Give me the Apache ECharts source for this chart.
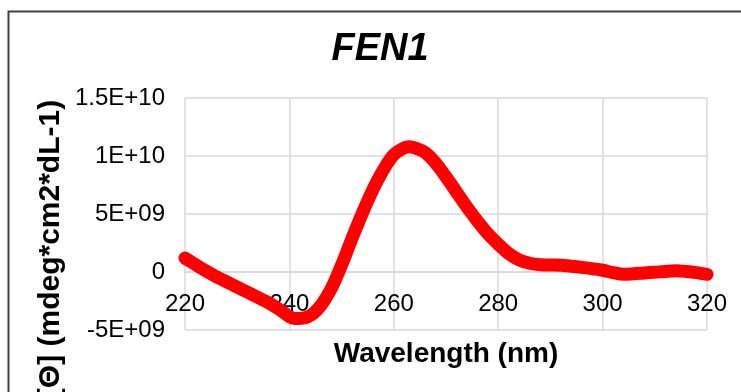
<!DOCTYPE html>
<html>
<head>
<meta charset="utf-8">
<title>FEN1</title>
<script src="https://cdn.jsdelivr.net/npm/echarts@6/dist/echarts.min.js"></script>
<style>
  html, body { margin: 0; padding: 0; background: #ffffff; }
  #chart { width: 741px; height: 392px; }
</style>
</head>
<body>
<div id="chart"></div>
<script>
// CD spectrum of FEN1: mean residue ellipticity vs wavelength
const wavelengths = [
  220, 222, 224, 226, 228, 230, 232, 234, 236, 238,
  240, 241, 242, 244, 246, 248, 250, 252, 254, 256,
  258, 260, 262, 263, 264, 266, 268, 270, 272, 274,
  276, 278, 280, 282, 284, 286, 288, 290, 292, 294,
  296, 298, 300, 302, 304, 306, 308, 310, 312, 314,
  316, 318, 320
];
const ellipticity = [
  1.2e9, 0.65e9, 0.1e9, -0.4e9, -0.85e9, -1.3e9, -1.75e9, -2.2e9, -2.65e9, -3.2e9,
  -3.85e9, -4.0e9, -4.0e9, -3.75e9, -2.9e9, -1.45e9, 0.6e9, 2.9e9, 5.1e9, 7.1e9,
  8.8e9, 10.1e9, 10.7e9, 10.8e9, 10.7e9, 10.3e9, 9.4e9, 8.2e9, 6.9e9, 5.6e9,
  4.4e9, 3.3e9, 2.4e9, 1.6e9, 1.05e9, 0.75e9, 0.62e9, 0.6e9, 0.58e9, 0.5e9,
  0.4e9, 0.28e9, 0.15e9, -0.05e9, -0.2e9, -0.15e9, -0.08e9, -0.02e9, 0.05e9, 0.1e9,
  0.05e9, -0.05e9, -0.2e9
];
const xTicks = [220, 240, 260, 280, 300, 320];
const yTickLabels = ['-5E+09', '0', '5E+09', '1E+10', '1.5E+10'];
const yTickValues = [-5e9, 0, 5e9, 1e10, 1.5e10];

const chartTitle = 'FEN1';
const xTitle = 'Wavelength (nm)';
const yTitle = '[Θ] (mdeg*cm2*dL-1)';

const FONT = '"Liberation Sans", Arial, Helvetica, sans-serif';
const GRID_COLOR = '#d9d9d9';

// plot box
const GRID = { left: 185, right: 34, top: 98, bottom: 62 };
const plotHeight = 392 - GRID.top - GRID.bottom;
const yMin = yTickValues[0];
const yMax = yTickValues[yTickValues.length - 1];
// lift the wavelength labels up to the zero line
const zeroLift = plotHeight * (0 - yMin) / (yMax - yMin);

const points = wavelengths.map((w, i) => [w, ellipticity[i]]);

const chart = echarts.init(document.getElementById('chart'), null, { renderer: 'canvas' });

chart.setOption({
  animation: false,
  backgroundColor: '#ffffff',
  title: {
    text: chartTitle,
    left: 375,
    top: 26,
    textAlign: 'center',
    textStyle: {
      fontFamily: FONT,
      fontSize: 38,
      fontWeight: 'bold',
      fontStyle: 'italic',
      color: '#000000'
    }
  },
  grid: {
    left: GRID.left, right: GRID.right, top: GRID.top, bottom: GRID.bottom,
    containLabel: false,
    outerBoundsMode: 'none'
  },
  xAxis: {
    type: 'value',
    min: xTicks[0],
    max: xTicks[xTicks.length - 1],
    interval: xTicks[1] - xTicks[0],
    offset: -zeroLift,
    name: xTitle,
    nameLocation: 'middle',
    nameGap: 68,
    nameTextStyle: {
      fontFamily: FONT,
      fontSize: 28,
      fontWeight: 'bold',
      color: '#000000'
    },
    axisLine: { show: true, onZero: false, lineStyle: { color: GRID_COLOR, width: 1.5 } },
    axisTick: { show: false },
    axisLabel: {
      margin: 20,
      fontFamily: FONT,
      fontSize: 24,
      color: '#000000'
    },
    splitLine: { show: true, lineStyle: { color: GRID_COLOR, width: 1.5 } }
  },
  yAxis: {
    type: 'value',
    min: yMin,
    max: yMax,
    interval: yTickValues[1] - yTickValues[0],
    axisLine: { show: false },
    axisTick: { show: false },
    axisLabel: {
      margin: 20,
      fontFamily: FONT,
      fontSize: 24,
      color: '#000000',
      formatter: function (v) {
        const i = yTickValues.findIndex(t => Math.abs(t - v) < 1);
        return i >= 0 ? yTickLabels[i] : '';
      }
    },
    splitLine: { show: true, lineStyle: { color: GRID_COLOR, width: 1.5 } }
  },
  graphic: [
    {
      type: 'rect',
      left: 6,
      top: 9,
      shape: { x: 0, y: 0, width: 800, height: 500 },
      style: { fill: 'none', stroke: '#404040', lineWidth: 2 },
      silent: true,
      z: 100
    },
    {
      type: 'text',
      x: 51,
      y: 249,
      rotation: Math.PI / 2,
      style: {
        text: yTitle,
        fontFamily: FONT,
        fontSize: 30,
        fontWeight: 'bold',
        fill: '#000000',
        align: 'center',
        verticalAlign: 'middle'
      },
      z: 100
    }
  ],
  series: [
    {
      type: 'line',
      data: points,
      smooth: 0.35,
      showSymbol: false,
      clip: false,
      lineStyle: { color: '#ff0000', width: 13, cap: 'round', join: 'round' },
      z: 5
    }
  ]
});
</script>
</body>
</html>
